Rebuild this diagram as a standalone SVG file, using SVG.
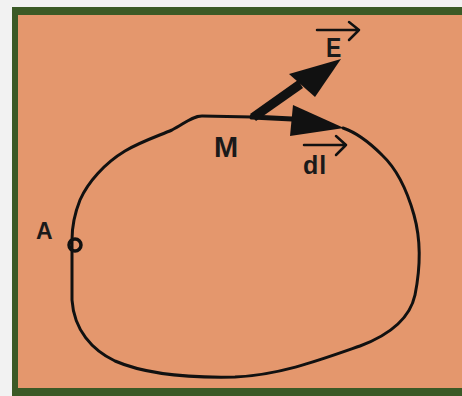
<svg xmlns="http://www.w3.org/2000/svg" width="462" height="396" viewBox="0 0 462 396">
<style>
.lbl{font-family:"Liberation Sans",Arial,sans-serif;font-weight:bold;fill:#1a1a1a}
.ln{fill:none;stroke:#111;stroke-linecap:round;stroke-linejoin:round}
</style>
<rect x="0" y="0" width="462" height="396" fill="#f2f2f2"/>
<rect x="12" y="7" width="460" height="400" fill="#3b5a26"/>
<rect x="18" y="15" width="444" height="373" fill="#e4976d"/>
<g id="loop">
<path class="ln" stroke-width="3" d="M252,117 L202,116 C192,116 184,124 172,130 C158,136 140,142 125,151 C105,163 88,182 80,200 C74,215 72,228 72,240 L72,300 C74,330 92,350 115,361 C145,374 190,378 235,377 C280,375 320,360 360,346 C392,334 410,318 415,295 C420,270 421,240 414,215 C407,190 398,170 382,155 C370,143 358,133 343,128"/>
</g>
<g id="A">
<circle cx="75" cy="245" r="6" fill="none" stroke="#111" stroke-width="3.5"/>
<text class="lbl" x="36" y="239" font-size="23">A</text>
</g>
<g id="M">
<text class="lbl" x="214" y="157" font-size="29">M</text>
</g>
<g id="connectors">
<path d="M250,114 L298,80 L303,88 L256,121 Z" fill="#111"/>
<polygon points="341,59 289,74 315,97" fill="#111"/>
<path class="ln" stroke-width="5" d="M252,117 L292,119"/>
<polygon points="344,128 293,105 290,136" fill="#111"/>
</g>
<g id="E">
<text class="lbl" x="326" y="57" font-size="27" transform="translate(326 0) scale(0.85 1) translate(-326 0)">E</text>
<path class="ln" stroke-width="2.5" d="M317,30 L359,30 M349,22 L359,30 L349,40"/>
</g>
<g id="dl">
<text class="lbl" x="303" y="174" font-size="25" letter-spacing="1">dl</text>
<path class="ln" stroke-width="2.5" d="M304,145 L346,145 M336,136 L346,145 L336,155"/>
</g>
</svg>
